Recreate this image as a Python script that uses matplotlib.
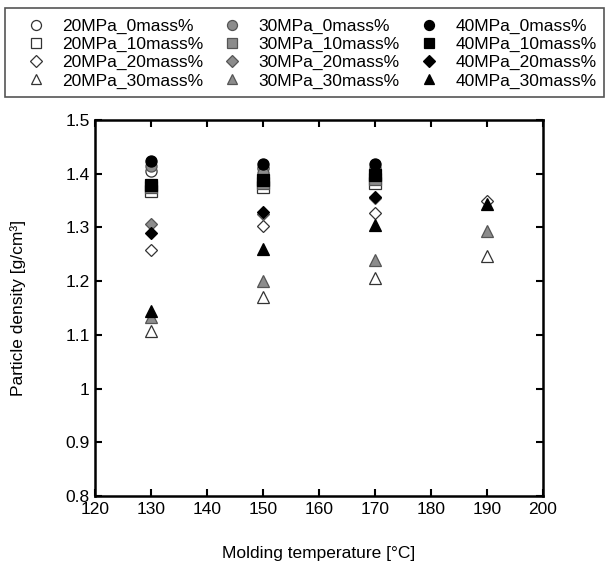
import numpy as np
import matplotlib
matplotlib.use("Agg")
import matplotlib.pyplot as plt
from matplotlib.patches import Rectangle
from matplotlib.ticker import FuncFormatter

plt.rcParams['font.family'] = ['Liberation Sans', 'DejaVu Sans']

# molding temperatures
temps = [130, 150, 170, 190]
nan = np.nan

# particle density, one list per pressure / filler amount
d20_0 = [1.405, 1.410, 1.405, nan]
d20_10 = [1.368, 1.375, 1.382, nan]
d20_20 = [1.257, 1.302, 1.326, 1.350]
d20_30 = [1.108, 1.170, 1.205, 1.246]

d30_0 = [1.415, 1.402, 1.410, nan]
d30_10 = [1.375, 1.382, 1.390, nan]
d30_20 = [1.306, 1.325, 1.355, nan]
d30_30 = [1.133, 1.200, 1.240, 1.293]

d40_0 = [1.424, 1.418, 1.418, nan]
d40_10 = [1.378, 1.388, 1.398, nan]
d40_20 = [1.290, 1.328, 1.356, nan]
d40_30 = [1.145, 1.260, 1.305, 1.343]

labels = ["20MPa_0mass%", "20MPa_10mass%", "20MPa_20mass%", "20MPa_30mass%",
          "30MPa_0mass%", "30MPa_10mass%", "30MPa_20mass%", "30MPa_30mass%",
          "40MPa_0mass%", "40MPa_10mass%", "40MPa_20mass%", "40MPa_30mass%"]
series = [d20_0, d20_10, d20_20, d20_30,
          d30_0, d30_10, d30_20, d30_30,
          d40_0, d40_10, d40_20, d40_30]
markers = ['o', 's', 'D', '^'] * 3
faces = ['white'] * 4 + ['#8c8c8c'] * 4 + ['black'] * 4
edges = ['#333333'] * 4 + ['#555555'] * 4 + ['black'] * 4
sizes = [8, 8, 6.5, 8.5] * 3

fig = plt.figure(figsize=(6.06, 5.63), dpi=100)
ax = fig.add_axes([0.157, 0.119, 0.739, 0.668])

handles = []
for vals, lab, m, fc, ec, ms in zip(series, labels, markers, faces, edges, sizes):
    h, = ax.plot(temps, vals, linestyle='none', marker=m, markersize=ms,
                 markerfacecolor=fc, markeredgecolor=ec, markeredgewidth=0.9,
                 label=lab)
    handles.append(h)

ax.set_xlim(120, 200)
ax.set_ylim(0.8, 1.5)
ax.set_xticks(np.arange(120, 201, 10))
ax.set_yticks(np.arange(0.8, 1.51, 0.1))
ax.yaxis.set_major_formatter(FuncFormatter(lambda v, p: "%g" % round(v, 1)))
ax.tick_params(direction='in', top=True, right=True, length=5, width=1.5,
               labelsize=12.5, pad=4)
for s in ax.spines.values():
    s.set_linewidth(1.8)

ax.set_xlabel("Molding temperature [°C]", fontsize=12.5, labelpad=21)
ax.set_ylabel("Particle density [g/cm³]", fontsize=12.5, labelpad=28)

# legend box across the top of the figure
fig.patches.append(Rectangle((5 / 606, 1 - 97 / 563), 599 / 606, 89 / 563,
                             transform=fig.transFigure, fill=False,
                             edgecolor='#555555', linewidth=1.2))
leg = fig.legend(handles=handles, ncol=3, loc='upper left',
                 bbox_to_anchor=(27 / 606, 1 - 19 / 563),
                 fontsize=12.5, frameon=False, markerscale=0.9,
                 handlelength=1.0, handletextpad=1.0, labelspacing=0.16,
                 columnspacing=1.2, borderaxespad=0.0, borderpad=0.0)

fig.savefig("out.png", dpi=100)
